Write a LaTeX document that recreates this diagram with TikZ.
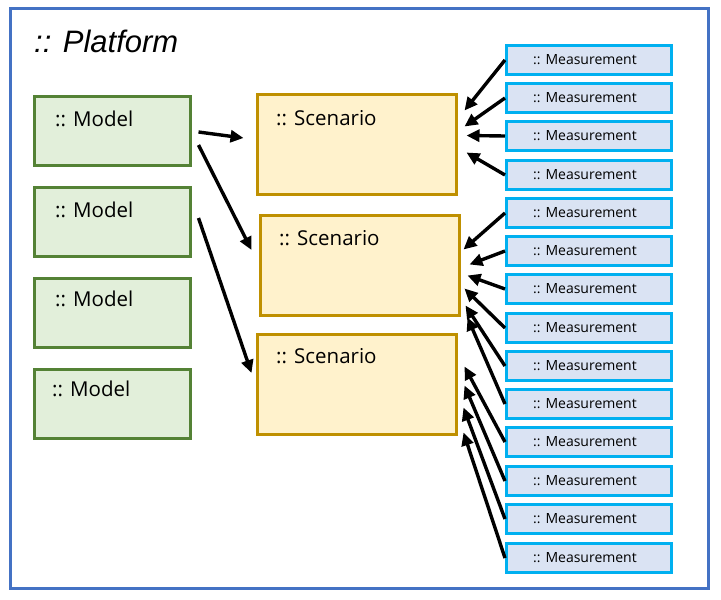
\documentclass[tikz,border=0pt]{standalone}
\usepackage{fontspec}
\setmainfont{Open Sans}
\newfontfamily\platfont{Liberation Sans}
\usetikzlibrary{arrows.meta}
\definecolor{frameblue}{HTML}{4472C4}
\definecolor{modelfill}{HTML}{E2EFDA}
\definecolor{modeldraw}{HTML}{548235}
\definecolor{scenfill}{HTML}{FFF2CC}
\definecolor{scendraw}{HTML}{BF9000}
\definecolor{measfill}{HTML}{DAE3F3}
\definecolor{measdraw}{HTML}{00B0F0}
\tikzset{
  modelbox/.style={draw=modeldraw, fill=modelfill, line width=3pt, minimum width=156pt, minimum height=69pt, inner sep=0pt},
  scenbox/.style={draw=scendraw, fill=scenfill, line width=3pt, minimum width=199pt, minimum height=100pt, inner sep=0pt},
  measbox/.style={draw=measdraw, fill=measfill, line width=3pt, minimum width=165pt, minimum height=29pt, inner sep=0pt},
  bigtext/.style={font=\fontsize{20.5}{24}\selectfont, inner sep=0pt, anchor=base west},
  meastext/.style={font=\fontsize{14}{16}\selectfont, inner sep=0pt},
  conn/.style={line width=3.4pt, -{Triangle[length=13pt,width=12pt]}},
}
\begin{document}
\begin{tikzpicture}[x=1pt,y=-1pt]
\useasboundingbox (0,0) rectangle (721,600);
\draw[frameblue, line width=3.5pt] (10.5,8.5) rectangle (708.5,588.5);
\node[font=\platfont\itshape\fontsize{31}{36}\selectfont, inner sep=0pt, anchor=base west] (title) at (34,52) {:: Platform};

% models
\node[modelbox] (m1) at (112.5,131) {};
\node[modelbox] (m2) at (112.5,222) {};
\node[modelbox] (m3) at (112.5,312.5) {};
\node[modelbox] (m4) at (112.5,403.5) {};
\node[bigtext] (m1t) at (55,126) {:: Model};
\node[bigtext] (m2t) at (55,217) {:: Model};
\node[bigtext] (m3t) at (55,306) {:: Model};
\node[bigtext] (m4t) at (52,396) {:: Model};

% scenarios
\node[scenbox] (s1) at (357,144.5) {};
\node[scenbox] (s2) at (360,265.5) {};
\node[scenbox] (s3) at (357,384.5) {};
\node[bigtext] (s1t) at (276,125) {:: Scenario};
\node[bigtext] (s2t) at (279,245) {:: Scenario};
\node[bigtext] (s3t) at (276,363) {:: Scenario};

% measurements
\foreach \i/\y in {1/60,2/98,3/136,4/175,5/213,6/251,7/289,8/328,9/366,10/404,11/442,12/481,13/519,14/558}{
  \node[measbox] (me\i) at (589,\y) {};
  \node[meastext] (me\i t) at (585,\y) {:: Measurement};
}

% model -> scenario arrows
\draw[conn] ([shift={(6.5,1)}]m1.east) -- ([shift={(-12.5,-6.5)}]s1.west);
\draw[conn] ([shift={(6.5,14)}]m1.east) -- ([shift={(-7.5,-15.5)}]s2.west);
\draw[conn] ([shift={(6.5,-4)}]m2.east) -- ([shift={(-4.5,-11.5)}]s3.west);

% measurement -> scenario arrows
\draw[conn] (me1.west) -- ([shift={(6.5,17.5)}]s1.north east);
\draw[conn] (me2.west) -- ([shift={(6.5,33.5)}]s1.north east);
\draw[conn] (me3.west) -- ([shift={(8.5,42.5)}]s1.north east);
\draw[conn] (me4.west) -- ([shift={(8.5,59.5)}]s1.north east);
\draw[conn] (me5.west) -- ([shift={(2.5,35.5)}]s2.north east);
\draw[conn] (me6.west) -- ([shift={(8.5,50.5)}]s2.north east);
\draw[conn] (me7.west) -- ([shift={(6.5,61.5)}]s2.north east);
\draw[conn] (me8.west) -- ([shift={(3.5,74.5)}]s2.north east);
\draw[conn] (me9.west) -- ([shift={(4.5,91.5)}]s2.north east);
\draw[conn] (me10.west) -- ([shift={(6.5,103.5)}]s2.north east);
\draw[conn] (me11.west) -- ([shift={(6.5,33.5)}]s3.north east);
\draw[conn] (me12.west) -- ([shift={(6.5,52.5)}]s3.north east);
\draw[conn] (me13.west) -- ([shift={(5.5,74.5)}]s3.north east);
\draw[conn] (me14.west) -- ([shift={(5.5,99.5)}]s3.north east);
\end{tikzpicture}
\end{document}
